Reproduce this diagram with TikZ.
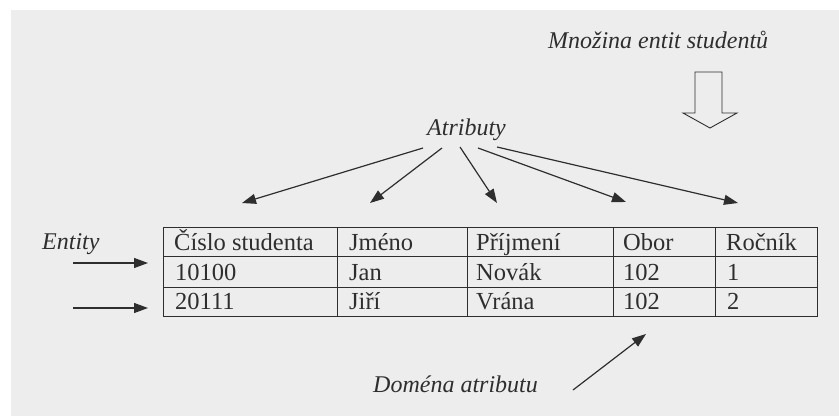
\documentclass[tikz,border=0pt]{standalone}
\usepackage{fontspec}
\setmainfont{Liberation Serif}
\usetikzlibrary{arrows.meta}
\definecolor{bg}{HTML}{EDEDED}
\definecolor{ink}{HTML}{2E2E2E}
\begin{document}
\begin{tikzpicture}[x=1pt,y=-1pt,
  lbl/.style={anchor=base west,inner sep=0pt,text=ink,font=\fontsize{24}{24}\selectfont\itshape},
  cell/.style={anchor=base west,inner sep=0pt,text=ink,font=\fontsize{24.5}{24.5}\selectfont},
  arr/.style={draw=ink,line width=1.2pt,-{Triangle[length=14pt,width=10pt]}},
  grid/.style={draw=ink,line width=0.9pt}]
\useasboundingbox (0,0) rectangle (839,416);
\fill[white] (0,0) rectangle (839,416);
\fill[bg] (11,10) rectangle (839,416);

% labels
\node[lbl] (mn) at (548,48) {Množina entit studentů};
\node[lbl] (at) at (427,135) {Atributy};
\node[lbl] (en) at (42,249) {Entity};
\node[lbl] (dom) at (373,392) {Doména atributu};

% hollow arrow
\draw[draw=ink,line width=0.9pt,fill=bg] (695,72) -- (722,72) -- (722,113) -- (737,113) -- (710,128) -- (683,113) -- (695,113) -- cycle;

% table grid
\draw[grid] (163,227) rectangle (817,316);
\draw[grid] (163,256) -- (817,256);
\draw[grid] (163,287) -- (817,287);
\foreach \x in {337,467,613,715} \draw[grid] (\x,227) -- (\x,316);

% cells
\node[cell] (h1) at (174,250) {Číslo studenta};
\node[cell] (h2) at (349,250) {Jméno};
\node[cell] (h3) at (476,250) {Příjmení};
\node[cell] (h4) at (623,250) {Obor};
\node[cell] (h5) at (726,250) {Ročník};
\node[cell] (a1) at (175,280) {10100};
\node[cell] (a2) at (349,280) {Jan};
\node[cell] (a3) at (476,280) {Novák};
\node[cell] (a4) at (623,280) {102};
\node[cell] (a5) at (727,280) {1};
\node[cell] (b1) at (175,309) {20111};
\node[cell] (b2) at (349,309) {Jiří};
\node[cell] (b3) at (476,309) {Vrána};
\node[cell] (b4) at (623,309) {102};
\node[cell] (b5) at (727,309) {2};

% attribute arrows
\coordinate (s1) at (423,148); \coordinate (t1) at (242,203);
\coordinate (s2) at (442,148); \coordinate (t2) at (370,203);
\coordinate (s3) at (460,147); \coordinate (t3) at (497,203);
\coordinate (s4) at (478,148); \coordinate (t4) at (626,202);
\coordinate (s5) at (497,147); \coordinate (t5) at (738,203);
\foreach \i in {1,...,5} \draw[arr] (s\i) -- (t\i);

% entity arrows
\coordinate (e1s) at (73,263); \coordinate (e1t) at (148,263);
\coordinate (e2s) at (73,308); \coordinate (e2t) at (148,308);
\draw[arr] (e1s) -- (e1t);
\draw[arr] (e2s) -- (e2t);

% domain arrow
\coordinate (ds) at (573,390); \coordinate (dt) at (646,334);
\draw[arr] (ds) -- (dt);
\end{tikzpicture}
\end{document}
